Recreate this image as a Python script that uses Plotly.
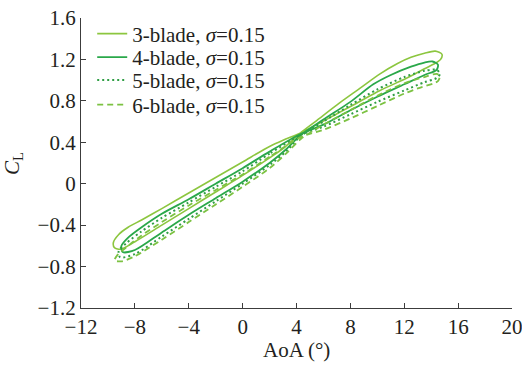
import plotly.graph_objects as go

# Lift-coefficient hysteresis loops (CL vs angle of attack), one closed loop per blade count.
# Each loop is listed as: left-lobe upper branch (pitch-down), left tip, left-lobe lower
# branch (pitch-up), right-lobe upper branch, right tip, right-lobe lower branch.

aoa_3 = [4.3, 3.0, 2.0, 0.0, -2.0, -4.0, -6.0, -7.5, -8.5, -9.2, -9.6, -9.5,
         -9.0, -8.0, -6.0, -4.0, -2.0, 0.0, 2.0, 3.0, 4.3,
         5.5, 7.2, 8.7, 10.2, 11.5, 12.5, 13.5, 14.3, 14.8, 14.7,
         14.4, 13.5, 12.2, 10.2, 8.5, 7.2, 5.8, 4.3]
cl_3 = [0.49, 0.42, 0.36, 0.21, 0.06, -0.09, -0.24, -0.35, -0.42, -0.49, -0.57, -0.62,
        -0.63, -0.56, -0.40, -0.24, -0.08, 0.08, 0.25, 0.34, 0.49,
        0.61, 0.78, 0.92, 1.06, 1.16, 1.22, 1.26, 1.28, 1.25, 1.20,
        1.17, 1.11, 1.02, 0.90, 0.78, 0.69, 0.59, 0.49]

aoa_4 = [4.3, 2.0, 0.0, -2.0, -4.0, -6.0, -7.5, -8.5, -9.0, -8.9,
         -8.0, -6.0, -4.0, -2.0, 0.0, 2.0, 3.3, 4.3,
         6.0, 8.0, 9.7, 11.0, 12.5, 13.5, 14.1, 14.5, 14.4,
         13.5, 12.0, 10.0, 8.0, 6.0, 4.3]
cl_4 = [0.48, 0.31, 0.15, 0.00, -0.15, -0.29, -0.42, -0.52, -0.60, -0.66,
        -0.64, -0.47, -0.30, -0.14, 0.02, 0.20, 0.34, 0.47,
        0.62, 0.79, 0.96, 1.05, 1.13, 1.17, 1.18, 1.15, 1.10,
        1.05, 0.96, 0.84, 0.71, 0.57, 0.48]

aoa_5 = [4.3, 2.0, 0.0, -2.0, -4.0, -6.0, -7.5, -8.6, -9.2, -9.1,
         -8.0, -6.0, -4.0, -2.0, 0.0, 2.0, 3.3, 4.3,
         6.0, 8.0, 10.0, 12.0, 13.5, 14.4, 14.65, 14.4,
         13.5, 12.0, 10.0, 8.0, 6.0, 4.3]
cl_5 = [0.47, 0.29, 0.12, -0.03, -0.18, -0.33, -0.46, -0.57, -0.65, -0.71,
        -0.68, -0.51, -0.34, -0.17, 0.00, 0.18, 0.32, 0.46,
        0.60, 0.76, 0.91, 1.03, 1.09, 1.10, 1.06, 1.02,
        0.98, 0.90, 0.79, 0.67, 0.55, 0.47]

aoa_6 = [4.3, 2.0, 0.0, -2.0, -4.0, -6.0, -7.5, -8.6, -9.3, -9.5,
         -9.0, -8.0, -6.0, -4.0, -2.0, 0.0, 2.0, 3.3, 4.3,
         6.0, 8.0, 10.0, 12.0, 13.5, 14.4, 14.65, 14.5,
         14.2, 13.0, 12.0, 10.0, 8.0, 6.0, 4.3]
cl_6 = [0.45, 0.26, 0.09, -0.06, -0.21, -0.37, -0.50, -0.61, -0.69, -0.74,
        -0.75, -0.70, -0.54, -0.37, -0.20, -0.03, 0.15, 0.30, 0.43,
        0.57, 0.71, 0.85, 0.97, 1.03, 1.06, 1.04, 0.99,
        0.97, 0.92, 0.87, 0.75, 0.63, 0.52, 0.45]

series_names = ["3-blade, <i>σ</i>=0.15", "4-blade, <i>σ</i>=0.15",
                "5-blade, <i>σ</i>=0.15", "6-blade, <i>σ</i>=0.15"]

x_ticks = [-12, -8, -4, 0, 4, 8, 12, 16, 20]
x_tick_text = ["−12", "−8", "−4", "0", "4", "8", "12", "16", "20"]
y_ticks = [-1.2, -0.8, -0.4, 0, 0.4, 0.8, 1.2, 1.6]
y_tick_text = ["−1.2", "−0.8", "−0.4", "0", "0.4", "0.8", "1.2", "1.6"]

FONT = "Liberation Serif"
TEXT = "#231f20"
FS = 21

styles = [
    dict(color="#8cc63f", width=1.6, dash="solid"),
    dict(color="#2aa84a", width=1.8, dash="solid"),
    dict(color="#2f9e44", width=2.0, dash="2px,3px"),
    dict(color="#7cc242", width=1.8, dash="6px,4px"),
]

fig = go.Figure()
data = [(aoa_3, cl_3), (aoa_4, cl_4), (aoa_5, cl_5), (aoa_6, cl_6)]
legend_ids = ["legend", "legend2", "legend3", "legend4"]
for (xs, ys), name, st, lg in zip(data, series_names, styles, legend_ids):
    fig.add_trace(go.Scatter(
        x=xs, y=ys, mode="lines", name=name, legend=lg,
        line=dict(color=st["color"], width=st["width"], dash=st["dash"],
                  shape="spline", smoothing=0.8),
    ))

# one legend box per row so the rows sit at the chart's own spacing
row_y = [0.945, 0.864, 0.785, 0.700]
legend_common = dict(x=0.026, xanchor="left", yanchor="middle",
                     bgcolor="rgba(0,0,0,0)", borderwidth=0,
                     font=dict(family=FONT, size=FS, color=TEXT),
                     itemwidth=30, tracegroupgap=0)
layout_legends = {lg: dict(y=yy, **legend_common) for lg, yy in zip(legend_ids, row_y)}

axis_common = dict(
    showline=True, linecolor="#3c3c3c", linewidth=1.2,
    ticks="inside", ticklen=5, tickwidth=1.2, tickcolor="#3c3c3c",
    showgrid=False, zeroline=False, mirror=False, automargin=False,
    ticklabeloverflow="allow",
    tickfont=dict(family=FONT, size=FS, color=TEXT),
)

fig.update_layout(
    width=522, height=365,
    margin=dict(l=81, r=10, t=18, b=57, autoexpand=False),
    paper_bgcolor="white", plot_bgcolor="white",
    showlegend=True,
    xaxis=dict(range=[-12, 20], tickvals=x_ticks, ticktext=x_tick_text, **axis_common),
    yaxis=dict(range=[-1.2, 1.6], tickvals=y_ticks, ticktext=y_tick_text, **axis_common),
    annotations=[
        dict(text="AoA (°)", xref="paper", yref="paper", x=0.5, y=-0.145,
             xanchor="center", yanchor="middle", showarrow=False,
             font=dict(family=FONT, size=FS, color=TEXT)),
        dict(text="<i>C</i><sub>L</sub>", xref="paper", yref="paper", x=-0.158, y=0.50,
             xanchor="center", yanchor="middle", showarrow=False, textangle=-90,
             font=dict(family=FONT, size=FS, color=TEXT)),
    ],
    **layout_legends,
)

fig.write_html("out.html")
